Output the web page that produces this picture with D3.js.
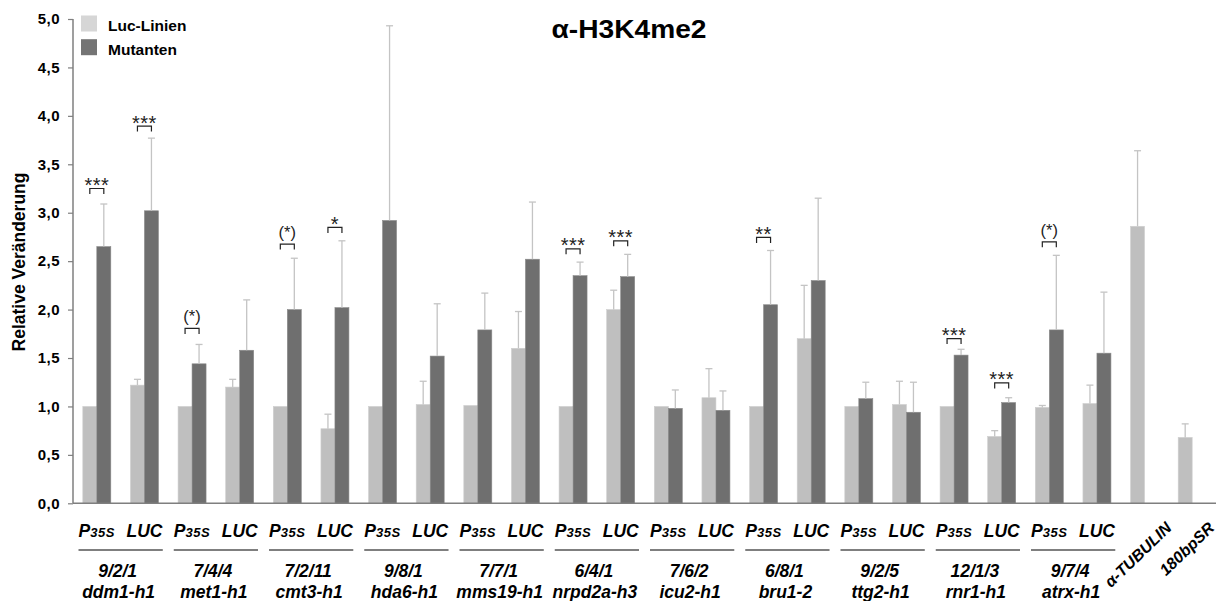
<!DOCTYPE html>
<html><head><meta charset="utf-8">
<script src="https://cdn.jsdelivr.net/npm/d3@7"></script>
<style>body{margin:0;background:#fff}svg{display:block;font-family:"Liberation Sans",Arial,sans-serif}</style>
</head><body><svg id="c" width="1220" height="601"></svg>
<script>
// ---- data ----
const genes = ["ddm1-h1","met1-h1","cmt3-h1","hda6-h1","mms19-h1","nrpd2a-h3","icu2-h1","bru1-2","ttg2-h1","rnr1-h1","atrx-h1"];
const geneCounts = ["9/2/1","7/4/4","7/2/11","9/8/1","7/7/1","6/4/1","7/6/2","6/8/1","9/2/5","12/1/3","9/7/4"];
const constructs = ["P35S","LUC"];
const controls = ["α-TUBULIN","180bpSR"];
const seriesNames = ["Luc-Linien","Mutanten"];
const lucValues = [1.00,1.22, 1.00,1.20, 1.00,0.77, 1.00,1.02, 1.01,1.60, 1.00,2.00, 1.00,1.09, 1.00,1.70, 1.00,1.02, 1.00,0.69, 0.99,1.03, 2.86,0.68];
const lucErrors = [0,0.06, 0,0.08, 0,0.15, 0,0.24, 0,0.38, 0,0.20, 0,0.30, 0,0.55, 0,0.24, 0,0.06, 0.02,0.19, 0.78,0.14];
const mutValues = [2.65,3.02, 1.44,1.58, 2.00,2.02, 2.92,1.52, 1.79,2.52, 2.35,2.34, 0.98,0.96, 2.05,2.30, 1.08,0.94, 1.53,1.04, 1.79,1.55, null,null];
const mutErrors = [0.44,0.75, 0.20,0.52, 0.53,0.69, 2.01,0.54, 0.38,0.59, 0.14,0.23, 0.19,0.20, 0.56,0.85, 0.17,0.31, 0.06,0.05, 0.77,0.63, null,null];
const sigIndex = [0,1,2,4,5,10,11,14,18,19,20];
const sigLabels = ["***","***","(*)","(*)","*","***","***","**","***","***","(*)"];
const sigLevels = [3.25,3.895,1.805,2.676,2.848,2.627,2.71,2.745,1.701,1.243,2.70];
const yTicks = [0,0.5,1,1.5,2,2.5,3,3.5,4,4.5,5];
const title = "α-H3K4me2";
const yTitle = "Relative Veränderung";

// ---- categories ----
const categories = [];
genes.forEach(g => constructs.forEach(c => categories.push(g + "|" + c)));
controls.forEach(c => categories.push(c));

const svg = d3.select("#c");
const x = d3.scaleBand().domain(categories).range([73, 1216]).padding(0);
const bw = x.bandwidth();
const x1 = d3.scaleBand().domain(["luc","mut"]).range([bw/2 - 14, bw/2 + 14]);
const y = d3.scaleLinear().domain([0, 5]).range([503.3, 19]);
const colors = {luc: "#bfbfbf", mut: "#6f6f6f"};

const rows = categories.map((c, i) => ({cat: c, i, luc: lucValues[i], lucE: lucErrors[i], mut: mutValues[i], mutE: mutErrors[i]}));

// bars
const barData = [];
rows.forEach(r => {
  if (r.luc != null) barData.push({cat: r.cat, key: "luc", v: r.luc, e: r.lucE});
  if (r.mut != null) barData.push({cat: r.cat, key: "mut", v: r.mut, e: r.mutE});
});
svg.append("g").selectAll("rect").data(barData).join("rect")
  .attr("x", d => x(d.cat) + x1(d.key))
  .attr("width", x1.bandwidth())
  .attr("y", d => y(d.v))
  .attr("height", d => y(0) - y(d.v))
  .attr("fill", d => colors[d.key])
  .attr("stroke", d => d.key === "mut" ? "#8a8a8a" : "#cfcfcf")
  .attr("stroke-width", 0.6);

// error bars
const eb = svg.append("g").attr("stroke", "#c4c4c4").attr("stroke-width", 1.3);
barData.filter(d => d.e > 0).forEach(d => {
  const cx = x(d.cat) + x1(d.key) + x1.bandwidth()/2;
  eb.append("line").attr("x1", cx).attr("x2", cx).attr("y1", y(d.v)).attr("y2", y(d.v + d.e));
  eb.append("line").attr("x1", cx - 3.5).attr("x2", cx + 3.5).attr("y1", y(d.v + d.e)).attr("y2", y(d.v + d.e));
});

// axes
const yAxis = svg.append("g").attr("transform", "translate(73,0)")
  .call(d3.axisLeft(y).tickValues(yTicks).tickSize(5).tickPadding(8)
    .tickFormat(d => d.toFixed(1).replace(".", ",")));
yAxis.select(".domain").attr("stroke", "#7f7f7f").attr("stroke-width", 1.5).attr("d", `M0,${y(5)}V${y(0)}`);
yAxis.selectAll(".tick line").attr("stroke", "#7f7f7f").attr("stroke-width", 1.2);
yAxis.selectAll(".tick text").attr("font-size", 15).attr("font-weight", "bold").attr("fill", "#000")
  .attr("font-family", '"Liberation Sans",Arial,sans-serif').attr("letter-spacing", 0.5);
svg.append("line").attr("x1", 73).attr("x2", 1216).attr("y1", y(0)).attr("y2", y(0))
  .attr("stroke", "#7f7f7f").attr("stroke-width", 1.5);

// significance brackets
const sg = svg.append("g");
sigIndex.forEach((idx, k) => {
  const cat = categories[idx];
  const xa = x(cat) + x1("luc") + x1.bandwidth()/2;
  const xb = x(cat) + x1("mut") + x1.bandwidth()/2;
  const yy = y(sigLevels[k]);
  sg.append("path").attr("d", `M${xa},${yy + 5.5}V${yy}H${xb}V${yy + 5.5}`)
    .attr("fill", "none").attr("stroke", "#222").attr("stroke-width", 1.2);
  const lab = sigLabels[k];
  const paren = lab.startsWith("(");
  sg.append("text").attr("x", (xa + xb)/2).attr("y", paren ? yy - 6 : yy + 3.5)
    .attr("text-anchor", "middle").attr("font-size", paren ? 16.5 : 20).attr("fill", "#222")
    .attr("letter-spacing", paren ? 0 : 0.5)
    .text(lab);
});

// x labels: construct labels
const lab = svg.append("g").attr("font-weight", "bold").attr("font-style", "italic").attr("fill", "#000");
genes.forEach((g, gi) => {
  const cP = x(g + "|P35S") + bw/2;
  const cL = x(g + "|LUC") + bw/2;
  const tP = lab.append("text").attr("x", cP).attr("y", 536.7).attr("text-anchor", "middle").attr("font-size", 17.5);
  tP.append("tspan").text("P");
  tP.append("tspan").attr("font-size", 13).attr("letter-spacing", 0.6).text("35S");
  const tL = lab.append("text").attr("x", cL).attr("y", 536.7).attr("text-anchor", "middle").attr("font-size", 17.5).text("LUC");
  const bP = tP.node().getBBox(), bL = tL.node().getBBox();
  svg.append("line").attr("x1", bP.x).attr("x2", bL.x + bL.width).attr("y1", 550).attr("y2", 550)
    .attr("stroke", "#555").attr("stroke-width", 1.3);
  const gc = (cP + cL) / 2;
  lab.append("text").attr("x", gc - 3).attr("y", 577).attr("text-anchor", "middle").attr("font-size", 17.5).text(geneCounts[gi]);
  lab.append("text").attr("x", gc - 2).attr("y", 597.5).attr("text-anchor", "middle").attr("font-size", 17.5).text(g);
});
controls.forEach((c, k) => {
  const cx = x(c) + bw/2;
  lab.append("text").attr("transform", `translate(${cx + (k === 0 ? 28 : 23)},529) rotate(-44)`)
    .attr("text-anchor", "end").attr("font-size", 16).text(c);
});

// y title
svg.append("text").attr("transform", "translate(25,262) rotate(-90)").attr("text-anchor", "middle")
  .attr("font-size", 17.5).attr("font-weight", "bold").text(yTitle);

// title
svg.append("text").attr("x", 629).attr("y", 37.7).attr("text-anchor", "middle")
  .attr("font-size", 25).attr("font-weight", "bold").attr("textLength", 155).attr("lengthAdjust", "spacingAndGlyphs").text(title);

// legend
const legColors = ["#d6d6d6", "#747474"];
const leg = svg.append("g");
seriesNames.forEach((s, k) => {
  leg.append("rect").attr("x", 81).attr("y", 15.5 + k * 23.7).attr("width", 16).attr("height", 16).attr("fill", legColors[k]);
  leg.append("text").attr("x", 108).attr("y", 30.5 + k * 24).attr("font-size", 15.5).attr("font-weight", "bold").text(s);
});
</script></body></html>
